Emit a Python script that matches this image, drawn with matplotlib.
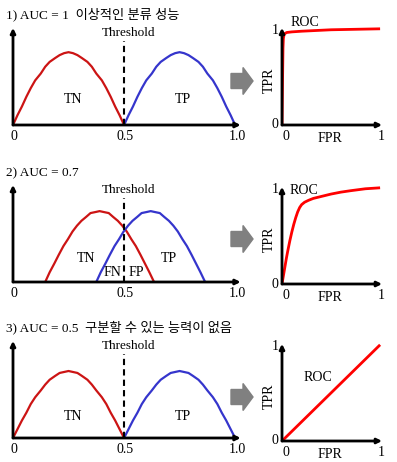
import matplotlib
matplotlib.use('Agg')  # no display
import matplotlib.pyplot as plt
from matplotlib.patches import FancyArrow

plt.rcParams['font.family'] = ['Liberation Serif', 'Noto Sans CJK KR']
plt.rcParams['font.size'] = 9.5

W, H = 397, 462

# --- data ---
titles = ['1) AUC = 1  이상적인 분류 성능',
          '2) AUC = 0.7',
          '3) AUC = 0.5  구분할 수 있는 능력이 없음']

# rows 1 and 3: the two classes are fully separated at the threshold
neg_x_split = [0, 0.02, 0.04, 0.06, 0.08, 0.10, 0.125, 0.145, 0.165, 0.19, 0.21, 0.23, 0.25,
               0.27, 0.29, 0.31, 0.335, 0.355, 0.375, 0.40, 0.42, 0.44, 0.46, 0.48, 0.5]
pos_x_split = [0.5, 0.52, 0.54, 0.56, 0.58, 0.60, 0.625, 0.645, 0.665, 0.69, 0.71, 0.73, 0.75,
               0.77, 0.79, 0.81, 0.835, 0.855, 0.875, 0.90, 0.92, 0.94, 0.96, 0.98, 1.0]
hump_y_r1 = [0, 0.10, 0.19, 0.29, 0.38, 0.46, 0.53, 0.60, 0.65, 0.69, 0.72, 0.74, 0.75,
             0.74, 0.72, 0.69, 0.65, 0.60, 0.53, 0.46, 0.38, 0.29, 0.19, 0.10, 0]
hump_y_r3 = [0, 0.09, 0.18, 0.26, 0.35, 0.42, 0.49, 0.55, 0.60, 0.64, 0.67, 0.68, 0.69,
             0.68, 0.67, 0.64, 0.60, 0.55, 0.49, 0.42, 0.35, 0.26, 0.18, 0.09, 0]

# row 2: the classes overlap around the threshold
neg_x_overlap = [0.145, 0.165, 0.186, 0.206, 0.227, 0.247, 0.268, 0.288, 0.308, 0.329, 0.349, 0.37, 0.39,
                 0.41, 0.431, 0.451, 0.472, 0.492, 0.512, 0.533, 0.553, 0.574, 0.594, 0.614, 0.635]
pos_x_overlap = [0.375, 0.395, 0.416, 0.436, 0.457, 0.477, 0.498, 0.518, 0.538, 0.559, 0.579, 0.60, 0.62,
                 0.64, 0.661, 0.681, 0.702, 0.722, 0.742, 0.763, 0.783, 0.804, 0.824, 0.844, 0.865]
hump_y_r2 = [0, 0.10, 0.19, 0.28, 0.37, 0.44, 0.52, 0.58, 0.63, 0.67, 0.71, 0.72, 0.73,
             0.72, 0.71, 0.67, 0.63, 0.58, 0.52, 0.44, 0.37, 0.28, 0.19, 0.10, 0]

threshold = 0.5
left_ticks = [0, 0.5, 1.0]
left_ticklabels = ['0', '0.5', '1.0']

# ROC curves
roc1_fpr = [0, 0.006, 0.01, 0.014, 0.02, 0.03, 0.05, 0.1, 0.2, 0.5, 1.0]
roc1_tpr = [0, 0.5, 0.8, 0.9, 0.935, 0.952, 0.962, 0.968, 0.975, 0.99, 1.0]
roc2_fpr = [0, 0.015, 0.03, 0.045, 0.06, 0.08, 0.1, 0.12, 0.14, 0.16, 0.18, 0.2, 0.23,
            0.27, 0.32, 0.4, 0.5, 0.6, 0.7, 0.85, 1.0]
roc2_tpr = [0, 0.09, 0.18, 0.27, 0.35, 0.45, 0.54, 0.62, 0.69, 0.75, 0.795, 0.825, 0.85,
            0.87, 0.89, 0.91, 0.935, 0.955, 0.97, 0.99, 1.0]
roc3_fpr = [0, 1.0]
roc3_tpr = [0, 1.0]

RED = '#cc1414'
BLUE = '#3535cc'
ROC_RED = '#ff0000'

# per-row layout (pixels from top)
rows = [
    dict(title_y=14, base_l=125, base_r=125, arrow_y=81,
         neg=(neg_x_split, hump_y_r1), pos=(pos_x_split, hump_y_r1),
         roc=(roc1_fpr, roc1_tpr), roc_lbl=(0.23, 1.07),
         lbl={'TN': (0.27, 0.26), 'TP': (0.766, 0.26)}),
    dict(title_y=173, base_l=282, base_r=284, arrow_y=239,
         neg=(neg_x_overlap, hump_y_r2), pos=(pos_x_overlap, hump_y_r2),
         roc=(roc2_fpr, roc2_tpr), roc_lbl=(0.22, 0.97),
         lbl={'TN': (0.33, 0.24), 'TP': (0.70, 0.24), 'FN': (0.45, 0.10), 'FP': (0.555, 0.10)}),
    dict(title_y=327, base_l=438, base_r=441, arrow_y=397,
         neg=(neg_x_split, hump_y_r3), pos=(pos_x_split, hump_y_r3),
         roc=(roc3_fpr, roc3_tpr), roc_lbl=(0.37, 0.66),
         lbl={'TN': (0.27, 0.22), 'TP': (0.766, 0.22)}),
]


def px_box(left, base, w, h):
    return [left / W, 1 - base / H, w / W, h / H]


def axis_arrows(ax, xend, yend, lw=2.0):
    props = dict(arrowstyle='-|>', lw=lw, color='black', mutation_scale=7,
                 shrinkA=0, shrinkB=0)
    ax.annotate('', xy=(xend, 0), xytext=(0, 0), arrowprops=props, annotation_clip=False)
    ax.annotate('', xy=(0, yend), xytext=(0, 0), arrowprops=props, annotation_clip=False)


def offset_text(ax, x, y, s, dx, dy, **kw):
    ax.annotate(s, xy=(x, y), xytext=(dx, dy), textcoords='offset points',
                ha='center', va='center', annotation_clip=False, **kw)


fig = plt.figure(figsize=(W / 100, H / 100), dpi=100)

for i, r in enumerate(rows):
    fig.text(6 / W, 1 - r['title_y'] / H, titles[i], ha='left', va='center', fontsize=9.5)

    # left panel: score distributions
    ax = fig.add_axes(px_box(13, r['base_l'], 231, 100))
    ax.set_xlim(0, 1.04)
    ax.set_ylim(0, 1.03)
    ax.axis('off')
    ax.plot(*r['neg'], color=RED, lw=1.6, solid_capstyle='butt')
    ax.plot(*r['pos'], color=BLUE, lw=1.6, solid_capstyle='butt')
    ax.plot([threshold, threshold], [0, 0.87], color='black', lw=1.5, ls=(0, (3, 2)))
    ax.text(0.52, 0.95, 'Threshold', ha='center', va='center', fontsize=9.5)
    for name, (tx, ty) in r['lbl'].items():
        ax.text(tx, ty, name, ha='center', va='center', fontsize=10)
    for t, s in zip(left_ticks, left_ticklabels):
        offset_text(ax, t + (0.01 if t == 1.0 else 0.003), 0, s, 0, -8.5, fontsize=10)
    axis_arrows(ax, 1.025, 1.0)

    # block arrow between the panels
    fig.patches.append(FancyArrow(2.31, (H - r['arrow_y']) / 100, 0.12, 0,
                                  width=0.15, head_width=0.27, head_length=0.10,
                                  length_includes_head=False, color='#808080',
                                  transform=fig.dpi_scale_trans, figure=fig))

    # right panel: ROC
    ax2 = fig.add_axes(px_box(282, r['base_r'], 103, 101))
    ax2.set_xlim(0, 1.05)
    ax2.set_ylim(0, 1.05)
    ax2.axis('off')
    ax2.plot(*r['roc'], color=ROC_RED, lw=2.0, solid_capstyle='butt')
    axis_arrows(ax2, 1.02, 1.01)
    ax2.text(*r['roc_lbl'], 'ROC', ha='center', va='center', fontsize=10)
    offset_text(ax2, 0, 0, '0', -5, 0, fontsize=10)
    offset_text(ax2, 0, 1.0, '1', -5, -1.5, fontsize=10)
    offset_text(ax2, 0, 0, '0', 2.5, -8, fontsize=10)
    offset_text(ax2, 1.0, 0, '1', 1, -8, fontsize=10)
    offset_text(ax2, 0.5, 0, 'FPR', -1, -10, fontsize=10)
    offset_text(ax2, 0, 0.47, 'TPR', -9, 0, fontsize=10, rotation=90)

fig.savefig('out.png', dpi=100)
